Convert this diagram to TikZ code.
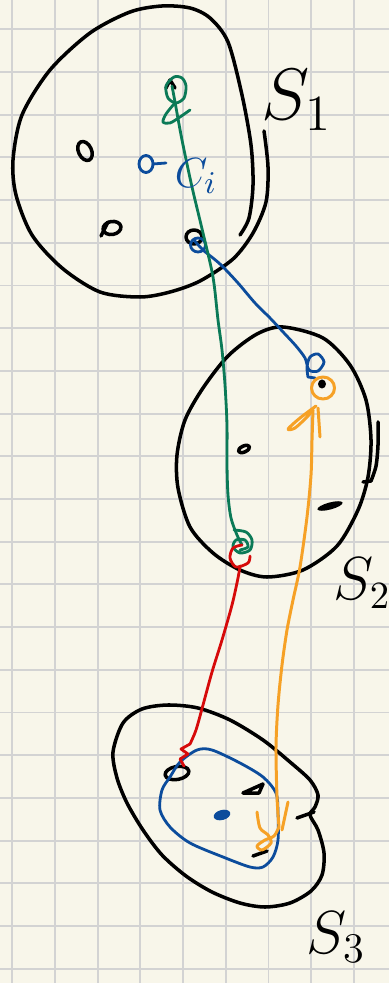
\documentclass[tikz,border=0pt]{standalone}
\usepackage{amsmath,amssymb}
\definecolor{paper}{HTML}{F8F6EA}
\definecolor{gridgray}{HTML}{D3D3D3}
\definecolor{pengreen}{HTML}{0B7A57}
\definecolor{penblue}{HTML}{0C4C9C}
\definecolor{penred}{HTML}{D60A0A}
\definecolor{penorange}{HTML}{F6A126}
\begin{document}
\begin{tikzpicture}[x=0.01cm,y=-0.01cm,
  gridline/.style={line width=0.55pt,draw=gridgray},
  inkline/.style={line width=1pt,line cap=round,line join=round},
  greenpen/.style={inkline,draw=pengreen,line width=0.8pt},
  bluepen/.style={inkline,draw=penblue,line width=0.8pt},
  redpen/.style={inkline,draw=penred,line width=0.8pt},
  orangepen/.style={inkline,draw=penorange,line width=0.85pt}]
  \useasboundingbox (0,0) rectangle (389,983);
  \fill[paper] (0,0) rectangle (389,983);
  \foreach \k in {0,...,8}
    \draw[gridline] ({12.3+42.7*\k},0) -- ({12.3+42.7*\k},983);
  \foreach \k in {0,...,22}
    \draw[gridline] (0,{29.3+42.7*\k}) -- (389,{29.3+42.7*\k});
  \coordinate (top1) at (172,86);
  \coordinate (low1) at (194,240);
  \coordinate (top2) at (313,410);
  \coordinate (end2) at (305,358);
  \coordinate (low2) at (242,545);
  \coordinate (left3) at (184,766);
  \coordinate (right3) at (279,827);
  \draw[inkline] plot[smooth] coordinates {(264,131) (268,167) (266,202) (253,233) (233,259) (200,281) (170,292) (140,297) (100,292) (62,268) (32,235) (16,195) (13,160) (22,115) (50,70) (90,33) (130,12) (162,6) (190,8) (210,18) (228,42) (242,95) (251,145) (253,185) (249,218) (240,235)};
  \draw[inkline] plot[smooth cycle] coordinates {(283,327) (323,338) (350,365) (366,400) (371,440) (368,477) (358,510) (337,546) (303,570) (267,577) (240,570) (213,553) (190,527) (178,488) (177,455) (185,420) (203,388) (228,356) (257,334)};
  \draw[inkline] plot[smooth] coordinates {(378,422) (378,445) (376,466) (371,481)} -- (363,482);
  \draw[inkline] plot[smooth cycle] coordinates {(113,752) (123,723) (142,709) (168,705) (198,708) (230,720) (263,740) (290,762) (310,780) (318,795) (315,807) (310,815) (318,830) (324,853) (322,875) (311,891) (290,903) (265,907) (240,903) (212,892) (186,876) (162,855) (143,830) (127,803) (117,778)};
  \draw[inkline] (297,818) -- (314,812);
  \draw[inkline] (85,151) ellipse [x radius=0.065cm,y radius=0.1cm,rotate=25];
  \draw[inkline] (112,228) ellipse [x radius=0.09cm,y radius=0.065cm,rotate=10];
  \draw[inkline] (101,236) -- (108,222);
  \draw[inkline] (166,88) -- (170,80) -- (175,88);
  \draw[inkline] (194,237) ellipse [x radius=0.08cm,y radius=0.07cm];
  \draw[inkline] (244,449) ellipse [x radius=0.06cm,y radius=0.03cm,rotate=25];
  \fill (330,506) ellipse [x radius=0.13cm,y radius=0.035cm,rotate=15];
  \fill (322,384) ellipse [x radius=0.04cm,y radius=0.045cm];
  \draw[inkline] (177,773) ellipse [x radius=0.12cm,y radius=0.065cm,rotate=10];
  \draw[inkline] (243,793) -- (263,784) -- (259,793) -- cycle;
  \draw[inkline] (253,856) -- (267,851);
  \fill[penblue] (222,815) ellipse [x radius=0.085cm,y radius=0.05cm,rotate=15];
  \draw[bluepen] (146,164) ellipse [x radius=0.07cm,y radius=0.085cm];
  \draw[bluepen] (153,164) -- (166,163);
  \draw[bluepen] plot[smooth cycle] coordinates {(180,762) (197,750) (212,750) (240,763) (263,777) (276,793) (278,813) (278,840) (273,857) (263,867) (250,867) (223,857) (190,843) (170,827) (160,810) (162,790) (170,777)};
  \draw[bluepen] (198,245) ellipse [x radius=0.075cm,y radius=0.07cm];
  \draw[bluepen] plot[smooth] coordinates {(low1) (203,250) (220,264) (238,283) (255,303) (270,318) (284,333) (296,346) (end2) (309,370) (318,371) (324,362) (318,354) (310,357) (307,367) (308,377)} -- (315,378);
  \draw[greenpen] plot[smooth cycle] coordinates {(166,86) (168,98) (176,103) (184,98) (186,86) (182,78) (174,77)};
  \draw[greenpen] plot[smooth] coordinates {(174,104) (166,114) (163,122) (170,123) (180,117) (190,110)};
  \draw[greenpen] plot[smooth] coordinates {(top1) (175,102) (182,140) (192,187) (203,233) (213,277) (218,320) (222,350) (225,385) (227,425) (227,465) (228,495) (231,518) (237,535) (low2)};
  \draw[greenpen] plot[smooth] coordinates {(234,530) (246,532) (252,540) (250,550) (240,553) (233,547) (236,540) (245,540) (248,547) (240,550)};
  \draw[redpen] plot[smooth] coordinates {(low2) (233,548) (230,558) (236,567) (248,563) (250,556)};
  \draw[redpen] plot[smooth] coordinates {(240,566) (238,578) (232,605) (222,640) (212,672) (203,705) (196,730) (190,744)} -- (181,749) -- (188,754) -- (180,759) -- (left3);
  \draw[orangepen] (323,388) ellipse [x radius=0.115cm,y radius=0.11cm];
  \draw[orangepen] plot[smooth] coordinates {(316,406) (300,418) (288,429) (295,428) (307,417) (313,410)};
  \draw[orangepen] (318,408) -- (320,437);
  \draw[orangepen] plot[smooth] coordinates {(top2) (312,440) (311,475) (307,517) (300,567) (293,600) (287,630) (282,665) (278,705) (276,747) (277,797) (right3)};
  \draw[orangepen] plot[smooth] coordinates {(right3) (274,836) (265,840) (257,846) (262,850) (271,843) (268,835) (260,828) (257,812)};
  \draw[orangepen] (282,830) -- (288,802);
  \node (s1) at (297,100) {\fontsize{20}{20}\selectfont $S_1$};
  \node (s2) at (362,583) {\fontsize{16}{16}\selectfont $S_2$};
  \node (s3) at (336,937) {\fontsize{17}{17}\selectfont $S_3$};
  \node[text=penblue] (ci) at (196,176) {\fontsize{13}{13}\selectfont $C_i$};
\end{tikzpicture}
\end{document}
